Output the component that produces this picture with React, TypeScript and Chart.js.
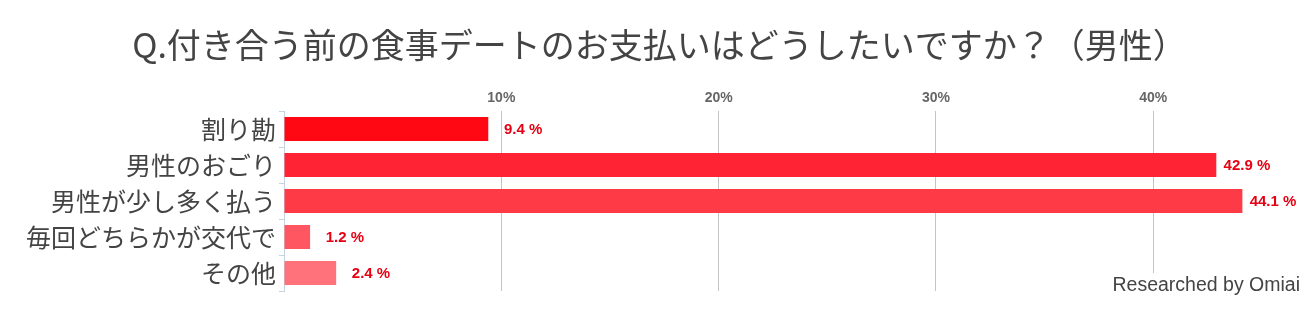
import { useEffect, useRef } from "react";
import { Chart, registerables } from "chart.js";

Chart.register(...registerables);

const categories = ["割り勘", "男性のおごり", "男性が少し多く払う", "毎回どちらかが交代で", "その他"];
const values = [9.4, 42.9, 44.1, 1.2, 2.4];
const barColors = ["#ff0813", "#ff2333", "#ff3a47", "#ff5661", "#ff717b"];
const xTickValues = [10, 20, 30, 40];
const titleText = "Q.付き合う前の食事デートのお支払いはどうしたいですか？（男性）";
const creditText = "Researched by Omiai";

const CJK = "'Noto Sans CJK JP', 'Noto Sans', sans-serif";
const LATIN = "'Liberation Sans', Arial, sans-serif";

const overlayPlugin = {
  id: "overlay",
  afterDatasetsDraw(chart: any) {
    const ctx = chart.ctx;
    const meta = chart.getDatasetMeta(0);
    ctx.save();
    ctx.font = `bold 15px ${LATIN}`;
    ctx.fillStyle = "#e60012";
    ctx.textAlign = "right";
    ctx.textBaseline = "middle";
    meta.data.forEach((el: any, i: number) => {
      ctx.fillText(values[i].toFixed(1) + " %", el.x + 54, el.y + 1);
    });
    ctx.restore();
  },
  afterDraw(chart: any) {
    const ctx = chart.ctx;
    const w = chart.width;
    ctx.save();
    // title
    ctx.font = `34px ${CJK}`;
    ctx.fillStyle = "#444444";
    ctx.textAlign = "center";
    ctx.textBaseline = "middle";
    ctx.fillText(titleText, w / 2 + 1.5, 37);
    // credit
    ctx.fillStyle = "#ffffff";
    ctx.fillRect(1100, 265, 200, 39);
    ctx.font = `19.5px ${LATIN}`;
    ctx.fillStyle = "#444444";
    ctx.textAlign = "right";
    ctx.textBaseline = "alphabetic";
    ctx.fillText(creditText, 1292, 283);
    ctx.restore();
  },
};

export default function App() {
  const canvasRef = useRef<HTMLCanvasElement | null>(null);

  useEffect(() => {
    if (!canvasRef.current) return;
    const chart = new Chart(canvasRef.current, {
      type: "bar",
      data: {
        labels: categories,
        datasets: [
          {
            data: values,
            backgroundColor: barColors,
            borderWidth: 0,
            barPercentage: 0.667,
            categoryPercentage: 1,
          },
        ],
      },
      options: {
        indexAxis: "y",
        animation: false,
        responsive: true,
        maintainAspectRatio: false,
        layout: { padding: { top: 73, bottom: 21, left: 0, right: 2.6 } },
        plugins: {
          legend: { display: false },
          tooltip: { enabled: false },
          title: { display: false },
        },
        scales: {
          x: {
            type: "linear",
            position: "top",
            min: 0,
            max: 47,
            afterFit(scale: any) {
              scale.height = 30;
            },
            afterBuildTicks(scale: any) {
              scale.ticks = [0, ...xTickValues].map((v) => ({ value: v }));
            },
            border: { display: false },
            grid: {
              drawTicks: false,
              color: (c: any) => (c.tick && c.tick.value === 0 ? "rgba(0,0,0,0)" : "#c4c4c4"),
              lineWidth: 1,
            },
            ticks: {
              padding: 4,
              color: "#666666",
              font: { family: LATIN, size: 14, weight: "bold" },
              callback: (v: any) => (v === 0 ? "" : v + "%"),
            },
          },
          y: {
            afterFit(scale: any) {
              scale.width = 276;
            },
            border: { display: true, color: "#c5d3e3", width: 1 },
            grid: {
              offset: true,
              drawOnChartArea: false,
              drawTicks: true,
              tickLength: 5,
              color: "#c5d3e3",
            },
            ticks: {
              padding: 3,
              color: "#444444",
              font: { family: CJK, size: 25 },
            },
          },
        },
      },
      plugins: [overlayPlugin],
    } as any);
    return () => chart.destroy();
  }, []);

  return (
    <div style={{ width: 1300, height: 304, position: "relative" }}>
      <canvas ref={canvasRef} />
    </div>
  );
}
